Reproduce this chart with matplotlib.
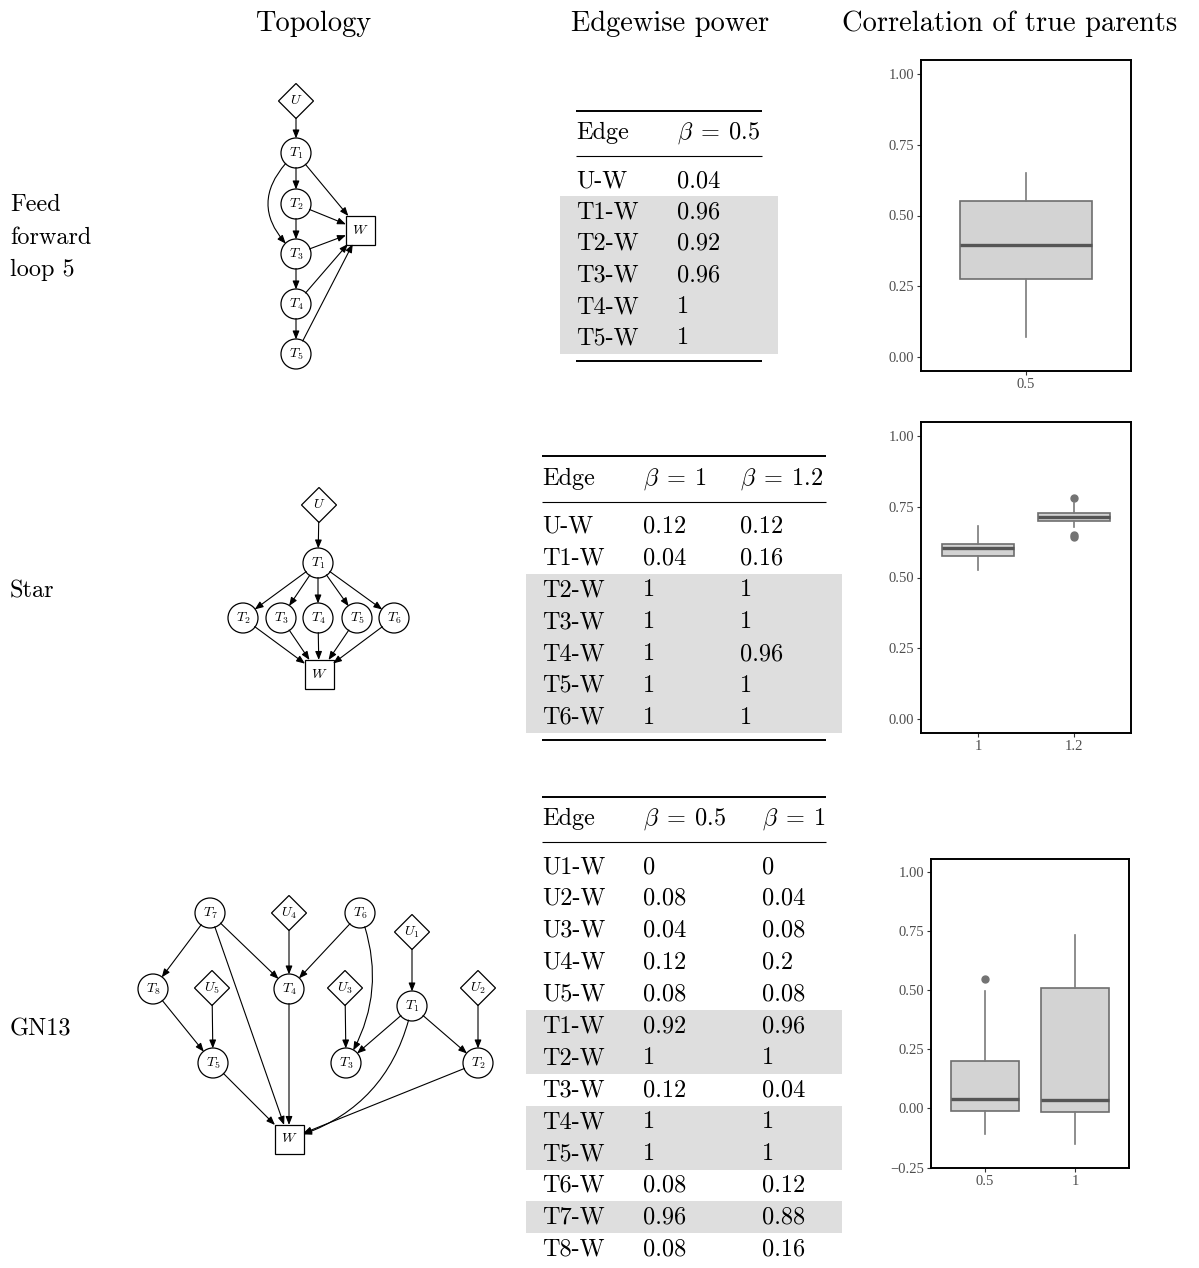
import numpy as np
import matplotlib
matplotlib.use('Agg')
import matplotlib.pyplot as plt
from matplotlib.patches import Circle, Rectangle, Polygon, FancyArrowPatch

plt.rcParams['font.family'] = ['cmr10', 'DejaVu Serif']
plt.rcParams['mathtext.fontset'] = 'cm'

# ---------------- data ----------------
col_titles = ['Topology', 'Edgewise power', 'Correlation of true parents']
row_names = ['Feed\nforward\nloop 5', 'Star', 'GN13']

# topology graphs (node layout in picture pixels)
ffl_nodes = {'U': (296, 101), 'T1': (296, 153), 'T2': (296, 204), 'T3': (296, 254),
             'T4': (296, 304), 'T5': (296, 354), 'W': (360, 230)}
ffl_edges = [('U', 'T1'), ('T1', 'T2'), ('T2', 'T3'), ('T3', 'T4'), ('T4', 'T5'),
             ('T1', 'T3'), ('T1', 'W'), ('T2', 'W'), ('T3', 'W'), ('T4', 'W'), ('T5', 'W')]
ffl_curved = {('T1', 'T3'): 0.55}

star_nodes = {'U': (319, 505), 'T1': (318, 563), 'T2': (243, 618), 'T3': (281, 618),
              'T4': (318, 618), 'T5': (357, 618), 'T6': (394, 618), 'W': (319, 674)}
star_edges = [('U', 'T1'), ('T1', 'T2'), ('T1', 'T3'), ('T1', 'T4'), ('T1', 'T5'), ('T1', 'T6'),
              ('T2', 'W'), ('T3', 'W'), ('T4', 'W'), ('T5', 'W'), ('T6', 'W')]
star_curved = {}

gn_nodes = {'T7': (210, 913), 'U4': (289, 913), 'T6': (360, 913), 'U1': (412, 932),
            'T8': (153, 989), 'U5': (212, 988), 'T4': (289, 989), 'U3': (345, 988),
            'T1': (412, 1006), 'U2': (478, 988), 'T5': (213, 1063), 'T3': (346, 1063),
            'T2': (478, 1063), 'W': (289, 1139)}
gn_edges = [('T7', 'T8'), ('T7', 'W'), ('T7', 'T4'), ('U4', 'T4'), ('T6', 'T4'), ('T6', 'T3'),
            ('U1', 'T1'), ('U5', 'T5'), ('T8', 'T5'), ('U3', 'T3'), ('T1', 'T3'), ('T1', 'T2'),
            ('T1', 'W'), ('U2', 'T2'), ('T5', 'W'), ('T4', 'W'), ('T2', 'W')]
gn_curved = {('T6', 'T3'): -0.25, ('T1', 'W'): -0.3}

# edgewise power tables
ffl_betas = ['0.5']
ffl_edge_names = ['U-W', 'T1-W', 'T2-W', 'T3-W', 'T4-W', 'T5-W']
ffl_power = [[0.04, 0.96, 0.92, 0.96, 1, 1]]
ffl_true = [0, 1, 1, 1, 1, 1]

star_betas = ['1', '1.2']
star_edge_names = ['U-W', 'T1-W', 'T2-W', 'T3-W', 'T4-W', 'T5-W', 'T6-W']
star_power = [[0.12, 0.04, 1, 1, 1, 1, 1],
              [0.12, 0.16, 1, 1, 0.96, 1, 1]]
star_true = [0, 0, 1, 1, 1, 1, 1]

gn_betas = ['0.5', '1']
gn_edge_names = ['U1-W', 'U2-W', 'U3-W', 'U4-W', 'U5-W', 'T1-W', 'T2-W', 'T3-W',
                 'T4-W', 'T5-W', 'T6-W', 'T7-W', 'T8-W']
gn_power = [[0, 0.08, 0.04, 0.12, 0.08, 0.92, 1, 0.12, 1, 1, 0.08, 0.96, 0.08],
            [0, 0.04, 0.08, 0.2, 0.08, 0.96, 1, 0.04, 1, 1, 0.12, 0.88, 0.16]]
gn_true = [0, 0, 0, 0, 0, 1, 1, 0, 1, 1, 0, 1, 0]

# correlation of true parents: (whislo, q1, median, q3, whishi), fliers
ffl_box_labels = ['0.5']
ffl_box = [(0.07, 0.275, 0.395, 0.55, 0.65)]
ffl_fliers = [[]]

star_box_labels = ['1', '1.2']
star_box = [(0.528, 0.577, 0.606, 0.62, 0.681), (0.679, 0.699, 0.714, 0.727, 0.765)]
star_fliers = [[], [0.782, 0.652, 0.645]]

gn_box_labels = ['0.5', '1']
gn_box = [(-0.106, -0.01, 0.039, 0.203, 0.498), (-0.149, -0.017, 0.035, 0.509, 0.736)]
gn_fliers = [[0.546], []]

# ---------------- figure ----------------
W, H = 1199, 1268
fig = plt.figure(figsize=(W / 100, H / 100), dpi=100)
ax = fig.add_axes([0, 0, 1, 1])
ax.set_xlim(0, W)
ax.set_ylim(H, 0)
ax.axis('off')

FS = 17.5

for x, t in zip([313, 670, 1010], col_titles):
    ax.text(x, 31, t, fontsize=20.5, ha='center', va='baseline')

for y, t in zip([211, 598, 1036], row_names):
    for i, line in enumerate(t.split('\n')):
        ax.text(10, y + i * 32.5, line, fontsize=FS, ha='left', va='baseline')


def node_label(name):
    if len(name) > 1:
        return '$%s_{%s}$' % (name[0], name[1:])
    return '$%s$' % name


def draw_graph(nodes, edges, curved):
    patches = {}
    for name, (x, y) in nodes.items():
        if name[0] == 'T':
            p = Circle((x, y), 15, fc='white', ec='black', lw=0.9)
        elif name[0] == 'U':
            p = Polygon([(x, y - 17.5), (x + 17.5, y), (x, y + 17.5), (x - 17.5, y)],
                        closed=True, fc='white', ec='black', lw=0.9)
        else:
            p = Rectangle((x - 14.5, y - 14.5), 29, 29, fc='white', ec='black', lw=0.9)
        ax.add_patch(p)
        patches[name] = p
        ax.text(x, y, node_label(name), fontsize=10, ha='center', va='center')
    for a, b in edges:
        rad = curved.get((a, b), 0)
        arr = FancyArrowPatch(nodes[a], nodes[b], patchA=patches[a], patchB=patches[b],
                              shrinkA=0, shrinkB=0,
                              arrowstyle='-|>,head_length=0.5,head_width=0.2',
                              connectionstyle='arc3,rad=%s' % rad,
                              mutation_scale=10, lw=0.8, color='black')
        ax.add_patch(arr)


draw_graph(ffl_nodes, ffl_edges, ffl_curved)
draw_graph(star_nodes, star_edges, star_curved)
draw_graph(gn_nodes, gn_edges, gn_curved)


def draw_table(betas, names, power, true, xl, xr, cols, top, step, bottom=True):
    head = top + 28.5
    mid = top + 45.5
    first = top + 76.5
    ax.plot([xl, xr], [top, top], color='black', lw=1.4, solid_capstyle='butt')
    ax.plot([xl, xr], [mid, mid], color='black', lw=0.8, solid_capstyle='butt')
    ax.text(cols[0], head, 'Edge', fontsize=FS, va='baseline')
    for c, b in zip(cols[1:], betas):
        ax.text(c, head, r'$\beta\;=\:%s$' % b, fontsize=FS, va='baseline')
    for i, n in enumerate(names):
        yb = first + i * step
        if true[i]:
            ax.add_patch(Rectangle((xl - 16, yb - 22.5), xr - xl + 32, step,
                                   fc='#dedede', ec='none', zorder=0))
        ax.text(cols[0], yb, n, fontsize=FS, va='baseline')
        for c, vals in zip(cols[1:], power):
            ax.text(c, yb, '%g' % vals[i], fontsize=FS, va='baseline')
    if bottom:
        yb = first + (len(names) - 1) * step + 16
        ax.plot([xl, xr], [yb, yb], color='black', lw=1.4, solid_capstyle='butt')


draw_table(ffl_betas, ffl_edge_names, ffl_power, ffl_true, 576, 762, [576, 677], 110.5, 31.5)
draw_table(star_betas, star_edge_names, star_power, star_true, 542, 826, [542, 643, 740], 456, 31.9)
draw_table(gn_betas, gn_edge_names, gn_power, gn_true, 542, 826, [542, 643, 762], 796.5, 31.9,
           bottom=False)


def draw_box(px, labels, box, fliers, ylim, yticks):
    l, r, t, b = px
    bx = fig.add_axes([l / W, 1 - b / H, (r - l) / W, (b - t) / H])
    stats = [dict(whislo=s[0], q1=s[1], med=s[2], q3=s[3], whishi=s[4], fliers=f)
             for s, f in zip(box, fliers)]
    n = len(stats)
    bx.bxp(stats, positions=np.arange(1, n + 1), widths=0.75, patch_artist=True,
           showcaps=False,
           boxprops=dict(facecolor='#d3d3d3', edgecolor='#6e6e6e', lw=1.2),
           medianprops=dict(color='#555555', lw=2.4),
           whiskerprops=dict(color='#7a7a7a', lw=1.2),
           flierprops=dict(marker='o', mfc='#737373', mec='#737373', ms=5))
    bx.set_xlim(0.4, n + 0.6)
    bx.set_ylim(*ylim)
    bx.set_yticks(yticks)
    bx.set_yticklabels(['%.2f' % v if v >= 0 else '\u2212%.2f' % -v for v in yticks])
    bx.set_xticks(np.arange(1, n + 1))
    bx.set_xticklabels(labels)
    for lab in bx.get_xticklabels() + bx.get_yticklabels():
        lab.set_fontfamily('Liberation Serif')
        lab.set_fontsize(10.5)
        lab.set_color('#4d4d4d')
    bx.tick_params(length=3, width=0.8, color='#333333', pad=2)
    for s in bx.spines.values():
        s.set_linewidth(1.4)
        s.set_color('black')


draw_box((921, 1131, 60, 371), ffl_box_labels, ffl_box, ffl_fliers, (-0.05, 1.05),
         [0, 0.25, 0.5, 0.75, 1])
draw_box((921, 1131, 422, 733), star_box_labels, star_box, star_fliers, (-0.05, 1.05),
         [0, 0.25, 0.5, 0.75, 1])
draw_box((931, 1129, 859, 1168), gn_box_labels, gn_box, gn_fliers, (-0.252, 1.056),
         [-0.25, 0, 0.25, 0.5, 0.75, 1])

fig.savefig('out.png', dpi=100)
